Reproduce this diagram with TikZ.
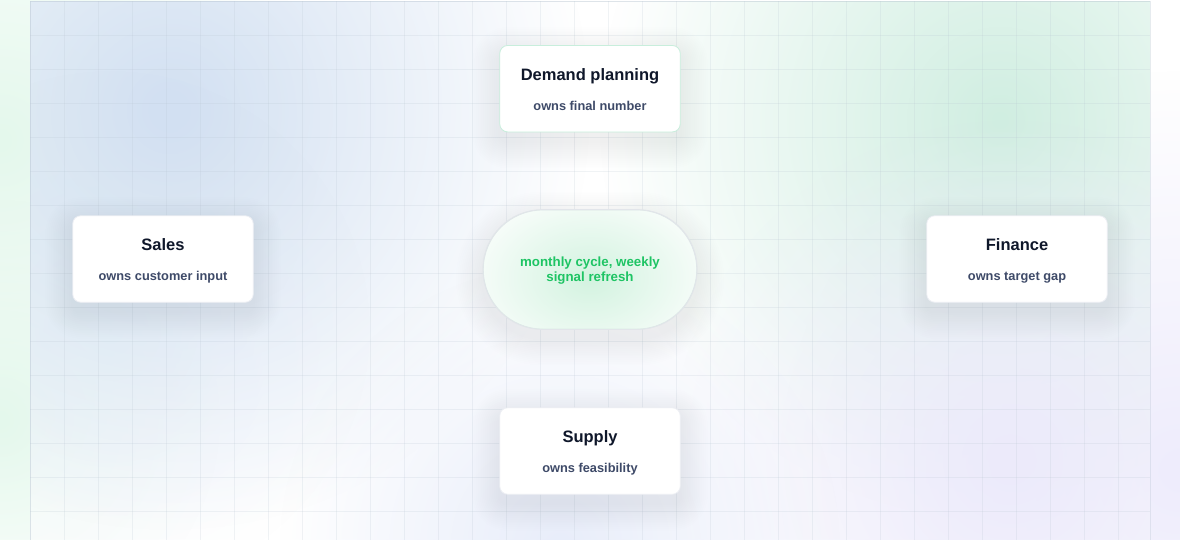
\documentclass[tikz,border=0pt]{standalone}
\usepackage{fontspec}
\setmainfont{Liberation Sans}
\usetikzlibrary{fadings,calc}
\definecolor{titlec}{HTML}{0F172A}
\definecolor{subc}{HTML}{3E4A68}
\definecolor{greentxt}{HTML}{1EC464}
\definecolor{cardline}{HTML}{ECEEF3}
\definecolor{mintline}{HTML}{C8EEDC}
\definecolor{pillline}{HTML}{E2E5EA}
\definecolor{shadowc}{HTML}{34456F}
\definecolor{gridc}{HTML}{B7C4D0}
\definecolor{pgreen}{HTML}{E4F8EC}
\definecolor{plav}{HTML}{EEECFC}
\definecolor{bblue}{HTML}{D2E0F2}
\definecolor{bgreen}{HTML}{D0EEE1}
\definecolor{blav}{HTML}{ECEAFB}
\definecolor{bblue2}{HTML}{E8EDFA}
\definecolor{glowc}{HTML}{D3F3E0}
\tikzfading[name=blobfade, inner color=transparent!0, outer color=transparent!100]
\pgfdeclarelayer{bglayer}
\pgfdeclarelayer{shlayer}
\pgfsetlayers{bglayer,shlayer,main}
\newcommand\mydropshadow[3]{%
  \foreach \k in {1,...,15}{%
    \pgfmathsetmacro\rr{#2+\k*1.8}%
    \pgfmathsetmacro\dd{\k*1.8}%
    \fill[shadowc, opacity=#3, rounded corners=\rr pt]
      ($(#1.south west)+(-\dd,\dd+9)$) rectangle ($(#1.north east)+(\dd,-\dd+9)$);
  }%
}
\tikzset{
  card/.style={rectangle, rounded corners=8pt, fill=white, draw=cardline, line width=0.8pt,
    minimum width=180.5pt, minimum height=86.5pt, inner sep=0pt},
  ttl/.style={font=\bfseries\fontsize{16.5}{19}\selectfont, text=titlec, anchor=base, inner sep=0pt},
  sub/.style={font=\bfseries\fontsize{12.8}{15}\selectfont, text=subc, anchor=base, inner sep=0pt},
  pill/.style={rectangle, rounded corners=59.5pt, fill=white, draw=pillline, line width=0.8pt,
    minimum width=213.4pt, minimum height=119pt, inner sep=0pt},
  cyc/.style={font=\bfseries\fontsize{13.3}{15}\selectfont, text=greentxt, align=center, inner sep=0pt},
  gridline/.style={draw=gridc, draw opacity=0.2, line width=0.8pt}
}
\begin{document}
\begin{tikzpicture}[x=1pt,y=-1pt]
\useasboundingbox (0,0) rectangle (1180,539);
\begin{pgfonlayer}{bglayer}
  \fill[white] (0,0) rectangle (1180,539);
  \fill[pgreen, path fading=blobfade] (0,140) circle (320pt);
  \fill[pgreen, path fading=blobfade] (0,420) circle (220pt);
  \fill[plav, path fading=blobfade] (1180,470) circle (400pt);
  \fill[white, opacity=0.6] (30,1) rectangle (1150,545);
  \begin{scope}
    \clip (30,1) rectangle (1150,545);
    \fill[bblue, path fading=blobfade] (170,110) circle (420pt);
    \fill[bblue, opacity=0.25, path fading=blobfade] (110,330) circle (260pt);
    \fill[bgreen, path fading=blobfade] (1000,120) circle (400pt);
    \fill[blav, path fading=blobfade] (1010,460) circle (340pt);
    \fill[bblue2, path fading=blobfade] (560,545) circle (280pt);
    \foreach \i in {0,...,32} \draw[gridline] (30.3+34*\i,1) -- (30.3+34*\i,540);
    \foreach \j in {0,...,15} \draw[gridline] (30,1.3+34*\j) -- (1150,1.3+34*\j);
  \end{scope}
  \draw[gridc, draw opacity=0.3, line width=0.8pt] (30,540) -- (30,1) -- (1150,1) -- (1150,540);
\end{pgfonlayer}

\node[card, draw=mintline] (demand) at (590,88.7) {};
\node[card] (sales) at (163,259) {};
\node[card] (finance) at (1017,259) {};
\node[card] (supply) at (590,451) {};
\node[pill] (cycle) at (590,269.5) {};

\begin{pgfonlayer}{shlayer}
  \mydropshadow{demand}{8}{0.0055}
  \mydropshadow{sales}{8}{0.0055}
  \mydropshadow{finance}{8}{0.0055}
  \mydropshadow{supply}{8}{0.0055}
  \mydropshadow{cycle}{59.5}{0.0055}
\end{pgfonlayer}

\begin{scope}
  \clip[rounded corners=59.5pt] (cycle.south west) rectangle (cycle.north east);
  \fill[glowc, path fading=blobfade] (590,278) ellipse (140pt and 100pt);
\end{scope}
\draw[pillline, line width=0.8pt, rounded corners=59.5pt] (cycle.south west) rectangle (cycle.north east);

\node[ttl] (demand-t) at ($(demand.north)+(0,35)$) {Demand planning};
\node[sub] (demand-s) at ($(demand.north)+(0,65)$) {owns final number};
\node[ttl] (sales-t) at ($(sales.north)+(0,35)$) {Sales};
\node[sub] (sales-s) at ($(sales.north)+(0,65)$) {owns customer input};
\node[ttl] (finance-t) at ($(finance.north)+(0,35)$) {Finance};
\node[sub] (finance-s) at ($(finance.north)+(0,65)$) {owns target gap};
\node[ttl] (supply-t) at ($(supply.north)+(0,35)$) {Supply};
\node[sub] (supply-s) at ($(supply.north)+(0,65)$) {owns feasibility};
\node[cyc] (cycle-t) at (590,270.7) {monthly cycle, weekly\\signal refresh};
\end{tikzpicture}
\end{document}
